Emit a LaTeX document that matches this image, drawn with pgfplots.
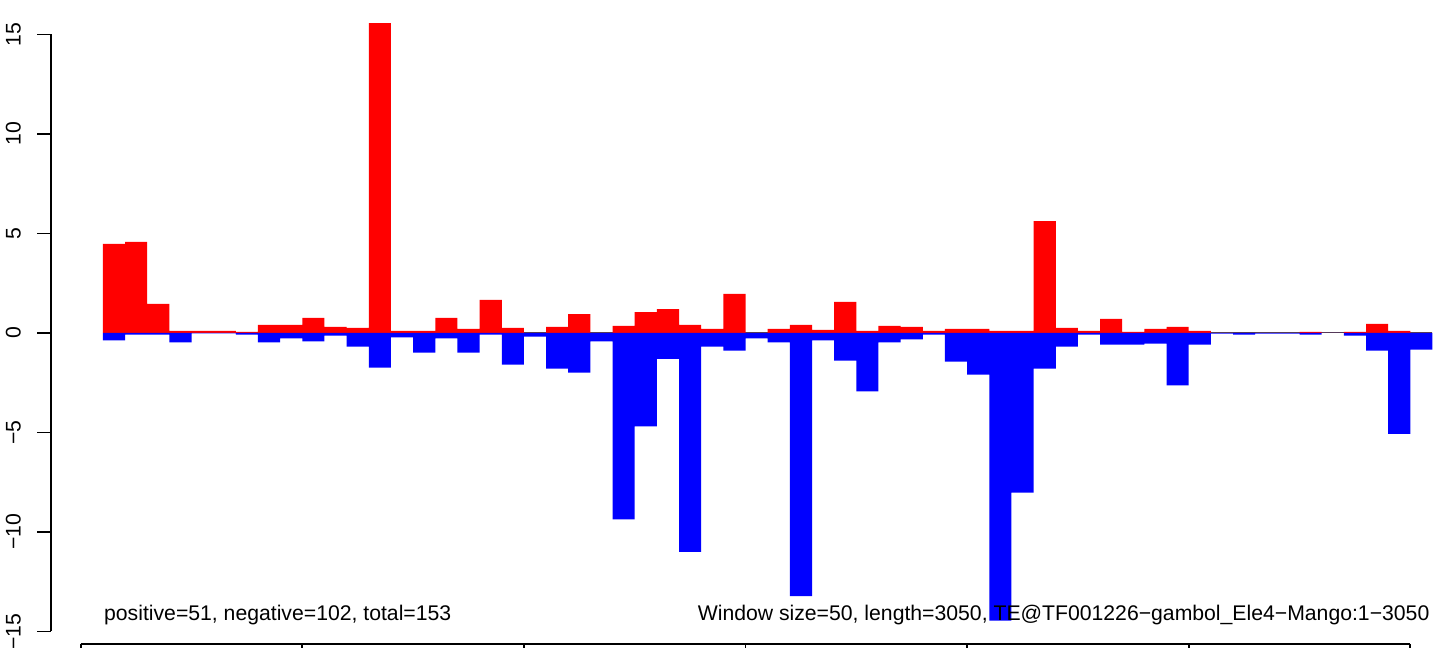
\documentclass[border=0pt]{standalone}
\usepackage{fontspec}
\setmainfont{Liberation Sans}
\usepackage{pgfplots}
\pgfplotsset{compat=1.18}
\usepackage{pgfplotstable}

\pgfplotstableread{
x pos neg
75 4.48 -0.38
125 4.57 -0.08
175 1.46 -0.08
225 0.10 -0.48
275 0.10 -0.02
325 0.10 -0.02
375 0.05 -0.08
425 0.40 -0.48
475 0.40 -0.28
525 0.75 -0.43
575 0.30 -0.13
625 0.25 -0.69
675 15.57 -1.74
725 0.10 -0.23
775 0.10 -0.99
825 0.75 -0.28
875 0.20 -0.99
925 1.66 -0.08
975 0.25 -1.59
1025 0 -0.18
1075 0.30 -1.79
1125 0.95 -1.99
1175 0 -0.43
1225 0.35 -9.37
1275 1.05 -4.70
1325 1.20 -1.30
1375 0.40 -11.00
1425 0.20 -0.69
1475 1.96 -0.89
1525 0 -0.28
1575 0.20 -0.48
1625 0.40 -13.23
1675 0.15 -0.38
1725 1.56 -1.39
1775 0.10 -2.94
1825 0.35 -0.48
1875 0.30 -0.33
1925 0.10 -0.08
1975 0.20 -1.44
2025 0.20 -2.09
2075 0.10 -14.46
2125 0.10 -8.02
2175 5.62 -1.79
2225 0.25 -0.69
2275 0.10 -0.08
2325 0.70 -0.59
2375 0.05 -0.59
2425 0.20 -0.54
2475 0.30 -2.64
2525 0.10 -0.59
2575 0 -0.03
2625 0 -0.08
2675 0 -0.03
2725 0 -0.03
2775 0.05 -0.08
2825 0 0
2875 0.05 -0.13
2925 0.45 -0.89
2975 0.10 -5.07
3025 0 -0.84
}\windows

\begin{document}
\begin{tikzpicture}
\begin{axis}[
  x=0.2216pt, y=9.95pt,
  xmin=-182.1, xmax=3051.2, ymin=-15.83, ymax=16.73,
  hide axis, clip=false,
]
\addplot[gray!60!black, line width=0.5pt] coordinates {(50,0) (3050,0)};
\addplot[ybar, bar width=50, bar shift=0pt, fill=red, draw=none] table[x=x, y=pos] {\windows};
\addplot[ybar, bar width=50, bar shift=0pt, fill=blue, draw=none] table[x=x, y=neg] {\windows};

% y axis (R style)
\draw[line width=0.9pt] (axis cs:-67.7,-15) -- (axis cs:-67.7,15);
\draw[line width=0.9pt] (axis cs:-67.7,-15) -- (axis cs:-98.6,-15);
\draw[line width=0.9pt] (axis cs:-67.7,-10) -- (axis cs:-98.6,-10);
\draw[line width=0.9pt] (axis cs:-67.7,-5) -- (axis cs:-98.6,-5);
\draw[line width=0.9pt] (axis cs:-67.7,0) -- (axis cs:-98.6,0);
\draw[line width=0.9pt] (axis cs:-67.7,5) -- (axis cs:-98.6,5);
\draw[line width=0.9pt] (axis cs:-67.7,10) -- (axis cs:-98.6,10);
\draw[line width=0.9pt] (axis cs:-67.7,15) -- (axis cs:-98.6,15);
\tikzset{ylab/.style={rotate=90, anchor=base, inner sep=0pt, font=\fontsize{10.6}{12}\selectfont}}
\node[ylab] at (axis cs:-135.4,-15) {−15};
\node[ylab] at (axis cs:-135.4,-10) {−10};
\node[ylab] at (axis cs:-135.4,-5) {−5};
\node[ylab] at (axis cs:-135.4,0) {0};
\node[ylab] at (axis cs:-135.4,5) {5};
\node[ylab] at (axis cs:-135.4,10) {10};
\node[ylab] at (axis cs:-135.4,15) {15};

% x axis (R style, labels fall below the visible area)
\draw[line width=0.9pt] (axis cs:0,-15.63) -- (axis cs:3000,-15.63);
\draw[line width=0.9pt] (axis cs:0,-15.63) -- (axis cs:0,-17);
\draw[line width=0.9pt] (axis cs:500,-15.63) -- (axis cs:500,-17);
\draw[line width=0.9pt] (axis cs:1000,-15.63) -- (axis cs:1000,-17);
\draw[line width=0.9pt] (axis cs:1500,-15.63) -- (axis cs:1500,-17);
\draw[line width=0.9pt] (axis cs:2000,-15.63) -- (axis cs:2000,-17);
\draw[line width=0.9pt] (axis cs:2500,-15.63) -- (axis cs:2500,-17);
\draw[line width=0.9pt] (axis cs:3000,-15.63) -- (axis cs:3000,-17);

% annotations
\node[anchor=base west, inner sep=0pt, font=\fontsize{10.6}{12}\selectfont] at (axis cs:52,-14.45) {positive=51, negative=102, total=153};
\node[anchor=base east, inner sep=0pt, font=\fontsize{10.6}{12}\selectfont] at (axis cs:3044,-14.45) {Window size=50, length=3050, TE@TF001226−gambol\_Ele4−Mango:1−3050};
\end{axis}
\pgfresetboundingbox
\useasboundingbox (current axis.south west) rectangle (current axis.north east);
\end{tikzpicture}
\end{document}
